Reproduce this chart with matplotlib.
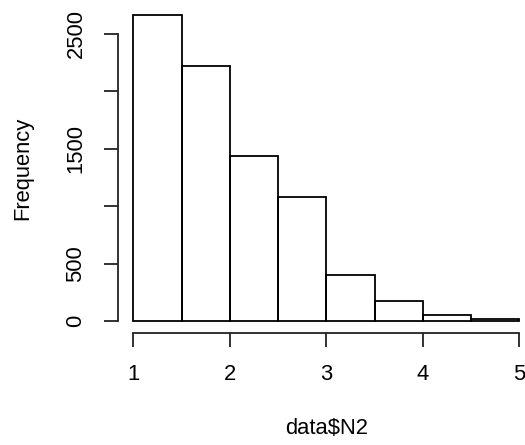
import numpy as np
import matplotlib
matplotlib.use('Agg')
import matplotlib.pyplot as plt

# histogram of data$N2
edges = [1.0, 1.5, 2.0, 2.5, 3.0, 3.5, 4.0, 4.5, 5.0]
counts = [2665, 2218, 1440, 1080, 401, 174, 50, 16]
yticks = [0, 500, 1000, 1500, 2000, 2500]
ytick_labels = ['0', '500', '', '1500', '', '2500']
xticks = [1, 2, 3, 4, 5]

plt.rcParams['font.family'] = ['Liberation Sans', 'DejaVu Sans']
fs = 15.8
lw = 1.3

fig = plt.figure(figsize=(5.25, 4.45), dpi=100)
# R style plot region: 4% padding around data range
ax = fig.add_axes([117.9 / 525, 111.8 / 445, 416.8 / 525, 330.4 / 445])

ax.bar(edges[:-1], counts, width=np.diff(edges), align='edge',
       fill=False, edgecolor='black', linewidth=lw)

xr = edges[-1] - edges[0]
ax.set_xlim(edges[0] - 0.04 * xr, edges[-1] + 0.04 * xr)
ax.set_ylim(-0.04 * max(counts), 1.04 * max(counts))

for s in ['top', 'right']:
    ax.spines[s].set_visible(False)
ax.spines['left'].set_bounds(yticks[0], yticks[-1])
ax.spines['bottom'].set_bounds(xticks[0], xticks[-1])
for s in ['left', 'bottom']:
    ax.spines[s].set_linewidth(lw)
    ax.spines[s].set_color('#222222')

ax.set_xticks(xticks)
ax.set_xticklabels([str(x) for x in xticks])
ax.set_yticks(yticks)
ax.set_yticklabels(ytick_labels, rotation=90, va='center')
ax.tick_params(axis='both', direction='out', length=10.1, width=lw,
               color='#222222', labelsize=fs)
ax.tick_params(axis='x', pad=12)
ax.tick_params(axis='y', pad=12.5)

ax.set_xlabel('data$N2', fontsize=fs, va='center')
ax.xaxis.set_label_coords(0.5, (333.2 - 428) / 330.4)
ax.set_ylabel('Frequency', fontsize=fs, va='center')
ax.yaxis.set_label_coords((23 - 117.9) / 416.8, 0.5)

fig.savefig('out.png', dpi=100)
